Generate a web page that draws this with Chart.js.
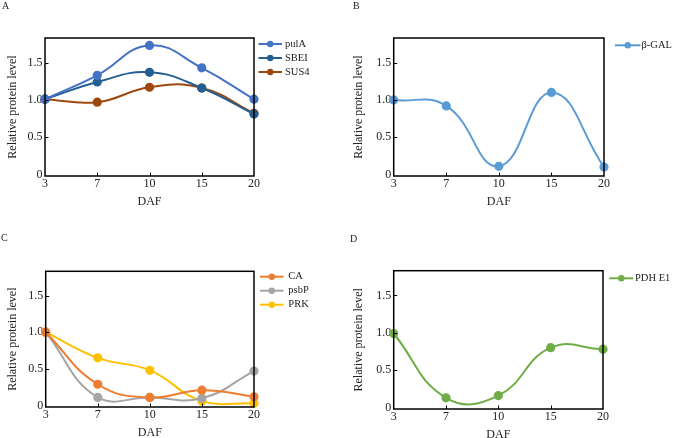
<!DOCTYPE html>
<html>
<head>
<meta charset="utf-8">
<script src="https://cdn.jsdelivr.net/npm/chart.js@4"></script>
<style>
  html, body { margin: 0; padding: 0; background: #fff; overflow: hidden; }
  body { position: relative; width: 674px; height: 438px; }
  canvas { position: absolute; }
</style>
</head>
<body>
<canvas id="chartA"></canvas>
<canvas id="chartB"></canvas>
<canvas id="chartC"></canvas>
<canvas id="chartD"></canvas>
<script>
let days = ['3', '7', '10', '15', '20'];
let yTicks = [0, 0.5, 1.0, 1.5];

let pulA = [1.01, 1.33, 1.73, 1.43, 1.01];
let sbei = [1.01, 1.24, 1.37, 1.16, 0.81];
let sus4 = [1.01, 0.97, 1.17, 1.16, 0.82];

let bGal = [1.0, 0.92, 0.11, 1.10, 0.10];

let ca = [1.0, 0.29, 0.11, 0.21, 0.12];
let psbP = [1.0, 0.11, 0.11, 0.10, 0.47];
let prk = [1.0, 0.65, 0.48, 0.06, 0.03];

let pdhE1 = [0.99, 0.13, 0.16, 0.80, 0.78];

let serif = '"Liberation Serif", "DejaVu Serif", serif';

// box round the plot, inward ticks, panel letter and an Excel-like legend
let panelDecor = {
  id: 'panelDecor',
  afterDraw: (chart, args, opts) => {
    let ctx = chart.ctx;
    let area = chart.chartArea;
    let xs = chart.scales.x;
    let ys = chart.scales.y;
    ctx.save();
    ctx.strokeStyle = '#000';
    ctx.lineWidth = 1.5;
    ctx.strokeRect(area.left, area.top, area.right - area.left, area.bottom - area.top);

    ctx.lineWidth = 1;
    ctx.beginPath();
    yTicks.slice(1).forEach((v) => {
      let y = Math.round(ys.getPixelForValue(v)) + 0.5;
      ctx.moveTo(area.left, y);
      ctx.lineTo(area.left + 3.5, y);
    });
    days.slice(1, -1).forEach((d, i) => {
      let x = Math.round(xs.getPixelForValue(i + 1)) + 0.5;
      ctx.moveTo(x, area.bottom);
      ctx.lineTo(x, area.bottom - 3.5);
    });
    ctx.stroke();

    ctx.fillStyle = '#222';
    ctx.font = '10px ' + serif;
    ctx.textBaseline = 'middle';
    ctx.textAlign = 'left';
    ctx.fillText(opts.letter, opts.letterX, opts.letterY);

    ctx.font = '10.5px ' + serif;
    chart.data.datasets.forEach((ds, i) => {
      let y = opts.legendY + i * 14;
      let x = opts.legendX;
      ctx.strokeStyle = ds.borderColor;
      ctx.lineWidth = 2;
      ctx.beginPath();
      ctx.moveTo(x, y);
      ctx.lineTo(x + opts.lineLen, y);
      ctx.stroke();
      ctx.fillStyle = ds.backgroundColor;
      ctx.beginPath();
      ctx.arc(x + opts.lineLen / 2, y, 3.2, 0, Math.PI * 2);
      ctx.fill();
      ctx.fillStyle = '#222';
      ctx.fillText(ds.label, opts.textX, y);
    });
    ctx.restore();
  },
};

let series = (label, values, color) => ({
  label: label,
  data: values,
  borderColor: color,
  backgroundColor: color,
  borderWidth: 2,
  pointRadius: 3.6,
  pointHoverRadius: 4,
  tension: 0.45,
  clip: false,
});

let makePanel = (id, datasets, p) => {
  let canvas = document.getElementById(id);
  canvas.style.left = p.left + 'px';
  canvas.style.top = p.top + 'px';
  canvas.width = p.width;
  canvas.height = p.height;

  new Chart(canvas.getContext('2d'), {
    type: 'line',
    data: { labels: days, datasets: datasets },
    plugins: [panelDecor],
    options: {
      responsive: false,
      animation: false,
      layout: {
        padding: { left: p.padLeft, top: p.padTop, right: p.padRight, bottom: 0 },
      },
      plugins: {
        legend: { display: false },
        tooltip: { enabled: false },
        panelDecor: p.decor,
      },
      scales: {
        x: {
          type: 'category',
          offset: false,
          grid: { display: false, drawTicks: false },
          border: { display: false },
          ticks: { color: '#222', padding: 1, font: { family: serif, size: 12 } },
          title: { display: true, text: 'DAF', color: '#222', font: { family: serif, size: 12 } },
          afterFit: (scale) => { scale.height = 37; },
        },
        y: {
          min: -0.02,
          max: 1.83,
          grid: { display: false, drawTicks: false },
          border: { display: false },
          afterBuildTicks: (scale) => { scale.ticks = yTicks.map((v) => ({ value: v })); },
          ticks: {
            color: '#222',
            padding: 2.5,
            font: { family: serif, size: 12 },
            callback: (v) => (v === 0 ? '0' : v.toFixed(1)),
          },
          title: {
            display: true,
            text: 'Relative protein level',
            color: '#222',
            font: { family: serif, size: 12 },
          },
          afterFit: (scale) => { scale.width = p.axisW; },
        },
      },
    },
  });
};

makePanel('chartA', [
  series('pulA', pulA, '#4472C4'),
  series('SBEI', sbei, '#255E91'),
  series('SUS4', sus4, '#9E480E'),
], {
  left: 0, top: 0, width: 337, height: 176.5 + 37,
  padLeft: 1.5, axisW: 43.5, padTop: 38, padRight: 83,
  decor: { letter: 'A', letterX: 2, letterY: 6.5, legendX: 258.5, lineLen: 23.5, textX: 285, legendY: 44 },
});

makePanel('chartB', [
  series('β-GAL', bGal, '#5B9BD5'),
], {
  left: 337, top: 0, width: 337, height: 176.5 + 37,
  padLeft: 11, axisW: 45.7, padTop: 38, padRight: 70,
  decor: { letter: 'B', letterX: 16, letterY: 6.5, legendX: 278, lineLen: 25.5, textX: 304.5, legendY: 45.3 },
});

makePanel('chartC', [
  series('CA', ca, '#ED7D31'),
  series('psbP', psbP, '#A5A5A5'),
  series('PRK', prk, '#FFC000'),
], {
  left: 0, top: 219, width: 337, height: 188.3 + 37,
  padLeft: 1.5, axisW: 44.2, padTop: 52.3, padRight: 83,
  decor: { letter: 'C', letterX: 1, letterY: 19, legendX: 260, lineLen: 23.5, textX: 288.3, legendY: 57.7 },
});

makePanel('chartD', [
  series('PDH E1', pdhE1, '#70AD47'),
], {
  left: 337, top: 219, width: 337, height: 190 + 37,
  padLeft: 11, axisW: 45.7, padTop: 51.7, padRight: 71,
  decor: { letter: 'D', letterX: 13, letterY: 20, legendX: 272.3, lineLen: 24, textX: 298, legendY: 59.3 },
});
</script>
</body>
</html>
